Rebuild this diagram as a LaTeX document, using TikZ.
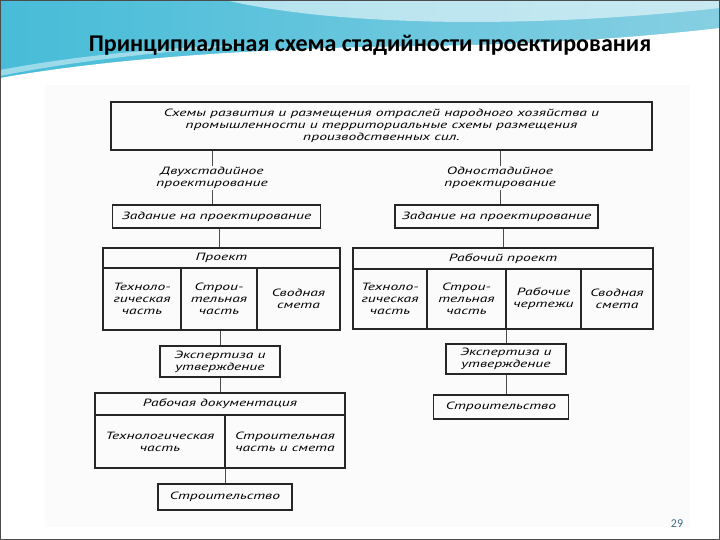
\documentclass[tikz,border=0pt]{standalone}
\usepackage{fontspec}
\setmainfont{Carlito}
\newfontfamily\diag[FakeStretch=1.48]{PT Sans}
\definecolor{hdrA}{HTML}{47BCD8}
\definecolor{hdrB}{HTML}{86CFE2}
\definecolor{pgnum}{HTML}{3D6F86}
\begin{document}
\begin{tikzpicture}[x=1pt,y=-1pt,
  box/.style={draw=black!85, line width=1.1pt, inner sep=0pt, align=center,
    font=\diag\itshape\fontsize{10.5}{11.8}\selectfont},
  lbl/.style={inner sep=1.5pt, align=center, font=\diag\itshape\fontsize{10.5}{11.8}\selectfont},
  conn/.style={draw=black!70, line width=0.7pt}]
\useasboundingbox (0,0) rectangle (720,540);
% slide background
\fill[white] (0,0) rectangle (720,540);
\shade[left color=hdrA, right color=hdrB] (0,0) rectangle (720,90);
\fill[white] (0,95) -- (0,78) .. controls (100,60) and (250,48) .. (420,46)
  .. controls (560,44) and (650,36) .. (720,28) -- (720,95) -- cycle;
\fill[white, opacity=0.55] (225,0) .. controls (330,25) and (520,30) .. (720,8) -- (720,0) -- cycle;
\fill[white, opacity=0.45] (0,70) .. controls (80,55) and (160,48) .. (260,44)
  .. controls (160,52) and (80,60) .. (0,76) -- cycle;
\fill[black!1.5] (45,85) rectangle (690,527);
\draw[black!70, line width=0.8pt] (0.4,0.4) rectangle (719.6,539.6);
% title
\node[font=\bfseries\fontsize{24}{28}\selectfont, inner sep=0pt] (title) at (370,45)
  {Принципиальная схема стадийности проектирования};
\node[font=\fontsize{12}{14}\selectfont, text=pgnum, inner sep=0pt] (pg) at (677,524) {29};
% top box
\node[box, minimum width=541pt, minimum height=48pt] (top) at (381.5,126)
  {Схемы развития и размещения отраслей народного хозяйства и\\
   промышленности и территориальные схемы размещения\\
   производственных сил.};
% labels
\node[lbl] (two) at (212,178) {Двухстадийное\\проектирование};
\node[lbl] (one) at (500,178) {Одностадийное\\проектирование};
% zadanie
\node[box, minimum width=208pt, minimum height=23pt] (zad1) at (216.5,216.5) {Задание на проектирование};
\node[box, minimum width=203pt, minimum height=23pt] (zad2) at (496.5,216.5) {Задание на проектирование};
% Proekt
\node[box, minimum width=237pt, minimum height=20pt] (proj) at (221.5,258) {Проект};
\node[box, minimum width=78pt, minimum height=62pt] (p1) at (142,299) {Техноло-\\гическая\\часть};
\node[box, minimum width=76pt, minimum height=62pt] (p2) at (219,299) {Строи-\\тельная\\часть};
\node[box, minimum width=83pt, minimum height=62pt] (p3) at (298.5,299) {Сводная\\смета};
% Rabochiy proekt
\node[box, minimum width=300pt, minimum height=21pt] (rproj) at (503,258.5) {Рабочий проект};
\node[box, minimum width=74pt, minimum height=60pt] (r1) at (390,299) {Техноло-\\гическая\\часть};
\node[box, minimum width=79pt, minimum height=60pt] (r2) at (466.5,299) {Строи-\\тельная\\часть};
\node[box, minimum width=75pt, minimum height=60pt] (r3) at (543.5,299) {Рабочие\\чертежи};
\node[box, minimum width=72pt, minimum height=60pt] (r4) at (617,299) {Сводная\\смета};
% Ekspertiza
\node[box, minimum width=120pt, minimum height=31pt] (eks1) at (220,361.5) {Экспертиза и\\утверждение};
\node[box, minimum width=120pt, minimum height=30pt] (eks2) at (506,359) {Экспертиза и\\утверждение};
% Rabochaya dokumentatsiya
\node[box, minimum width=250pt, minimum height=22pt] (rabd) at (220,404) {Рабочая документация};
\node[box, minimum width=130pt, minimum height=53pt] (d1) at (160,441.5) {Технологическая\\часть};
\node[box, minimum width=120pt, minimum height=53pt] (d2) at (285,441.5) {Строительная\\часть и смета};
% Stroitelstvo
\node[box, minimum width=134pt, minimum height=26pt] (str1) at (225,497) {Строительство};
\node[box, minimum width=135pt, minimum height=24pt] (str2) at (501,407) {Строительство};
% connectors left
\draw[conn] (top.south -| two.north) -- (two.north);
\draw[conn] (two.south) -- (two.south |- zad1.north);
\draw[conn] (p2.north |- zad1.south) -- (p2.north |- proj.north);
\draw[conn] (eks1.north |- p2.south) -- (eks1.north);
\draw[conn] (eks1.south) -- (eks1.south |- rabd.north);
\draw[conn] (d1.south east) -- (d1.south east |- str1.north);
% connectors right
\draw[conn] (top.south -| one.north) -- (one.north);
\draw[conn] (one.south) -- (one.south |- zad2.north);
\draw[conn] (rproj.north |- zad2.south) -- (rproj.north);
\draw[conn] (r2.south east) -- (r2.south east |- eks2.north);
\draw[conn] (eks2.south) -- (eks2.south |- str2.north);
\end{tikzpicture}
\end{document}
